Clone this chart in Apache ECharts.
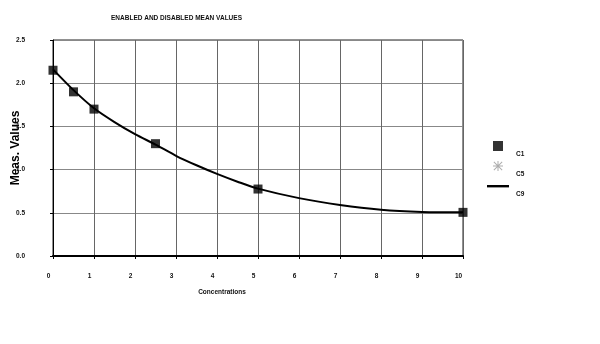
<!DOCTYPE html>
<html>
<head>
<meta charset="utf-8">
<script src="https://cdn.jsdelivr.net/npm/echarts@6/dist/echarts.min.js"></script>
<style>html,body{margin:0;padding:0;background:#fff}#c{width:600px;height:344px}</style>
</head>
<body>
<div id="c"></div>
<script>
var titleText = 'ENABLED AND DISABLED MEAN VALUES';
var xName = 'Concentrations';
var yName = 'Meas. Values';
var seriesNames = ['C1', 'C5', 'C9'];
var c1X = [0, 0.5, 1, 2.5, 5, 10];
var c1Y = [2.15, 1.90, 1.70, 1.30, 0.775, 0.505];
var c5X = [];
var c5Y = [];
var c9X = [0, 0.5, 1, 1.5, 2, 2.5, 3, 3.5, 4, 4.5, 5, 6, 7, 8, 9, 10];
var c9Y = [2.16, 1.92, 1.71, 1.55, 1.41, 1.29, 1.16, 1.05, 0.95, 0.86, 0.78, 0.67, 0.59, 0.535, 0.51, 0.505];

function pairs(xs, ys) { return xs.map(function (x, i) { return [x, ys[i]]; }); }

var FONT = 'Liberation Sans, Arial, sans-serif';
var squarePath = 'path://M0,0L10,0L10,10L0,10Z';
var starPath = 'path://M4.5,0L5.5,0L5.5,10L4.5,10Z M0,4.5L10,4.5L10,5.5L0,5.5Z M1.2,0.5L9.5,8.8L8.8,9.5L0.5,1.2Z M8.8,0.5L9.5,1.2L1.2,9.5L0.5,8.8Z';
var linePath = 'path://M0,0L22,0L22,2.4L0,2.4Z';

function legendFor(name, icon, left, top, w, h, padLeft) {
  return {
    orient: 'vertical', left: left, top: top, padding: 0,
    itemWidth: w, itemHeight: h, symbolKeepAspect: true,
    formatter: function (n) { return '{t|' + n + '}'; },
    textStyle: {fontFamily: FONT, fontSize: 6.5, fontWeight: 'bold', color: '#111',
      rich: {t: {fontFamily: FONT, fontSize: 6.5, fontWeight: 'bold', color: '#111', padding: [16, 0, 0, padLeft]}}},
    data: [{name: name, icon: icon}]
  };
}

var chart = echarts.init(document.getElementById('c'), null, {renderer: 'canvas'});
chart.setOption({
  animation: false,
  backgroundColor: '#fff',
  title: {
    text: titleText, left: 106, top: 10,
    textStyle: {fontFamily: FONT, fontSize: 6.5, fontWeight: 'bold', color: '#111'}
  },
  legend: [
    legendFor(seriesNames[0], squarePath, 493, 141, 10, 10, 8),
    legendFor(seriesNames[1], starPath, 493, 161, 10, 10, 8),
    legendFor(seriesNames[2], linePath, 487, 185, 22, 10, 2)
  ],
  grid: {left: 53, right: 137, top: 40, bottom: 88, show: true, borderColor: '#222', borderWidth: 1,
         containLabel: false, outerBoundsMode: 'none'},
  xAxis: {
    type: 'value', min: 0, max: 10, interval: 1,
    name: xName, nameLocation: 'middle', nameGap: 33, nameMoveOverlap: false,
    nameTextStyle: {fontFamily: FONT, fontSize: 6.5, fontWeight: 'bold', color: '#111', padding: [0, 72, 0, 0]},
    axisLine: {show: true, lineStyle: {color: '#000', width: 2}},
    axisTick: {show: true, length: 3, lineStyle: {color: '#000'}},
    axisLabel: {fontFamily: FONT, fontSize: 6.5, fontWeight: 'bold', color: '#111', margin: 17, padding: [0, 9, 0, 0]},
    splitLine: {show: true, lineStyle: {color: '#666', width: 1}}
  },
  yAxis: {
    type: 'value', min: 0, max: 2.5, interval: 0.5,
    name: yName, nameLocation: 'middle', nameGap: 31, nameMoveOverlap: false,
    nameTextStyle: {fontFamily: FONT, fontSize: 12, fontWeight: 'bold', color: '#000'},
    axisLine: {show: true, lineStyle: {color: '#000', width: 1}},
    axisTick: {show: true, length: 3, lineStyle: {color: '#000'}},
    axisLabel: {fontFamily: FONT, fontSize: 6.5, fontWeight: 'bold', color: '#111', margin: 28, padding: [13, 0, 0, 0],
      formatter: function (v) { return v.toFixed(1); }},
    splitLine: {show: true, lineStyle: {color: '#888', width: 1}}
  },
  series: [
    {name: seriesNames[0], type: 'scatter', symbol: 'rect', symbolSize: 9, clip: false,
     itemStyle: {color: '#000'}, data: pairs(c1X, c1Y), z: 5},
    {name: seriesNames[1], type: 'scatter', symbol: starPath, symbolSize: 9,
     itemStyle: {color: '#999'}, data: pairs(c5X, c5Y)},
    {name: seriesNames[2], type: 'line', smooth: 0.3, symbol: 'none', showSymbol: false,
     lineStyle: {color: '#000', width: 2}, itemStyle: {color: '#000'}, data: pairs(c9X, c9Y), z: 3}
  ]
});
</script>
</body>
</html>
